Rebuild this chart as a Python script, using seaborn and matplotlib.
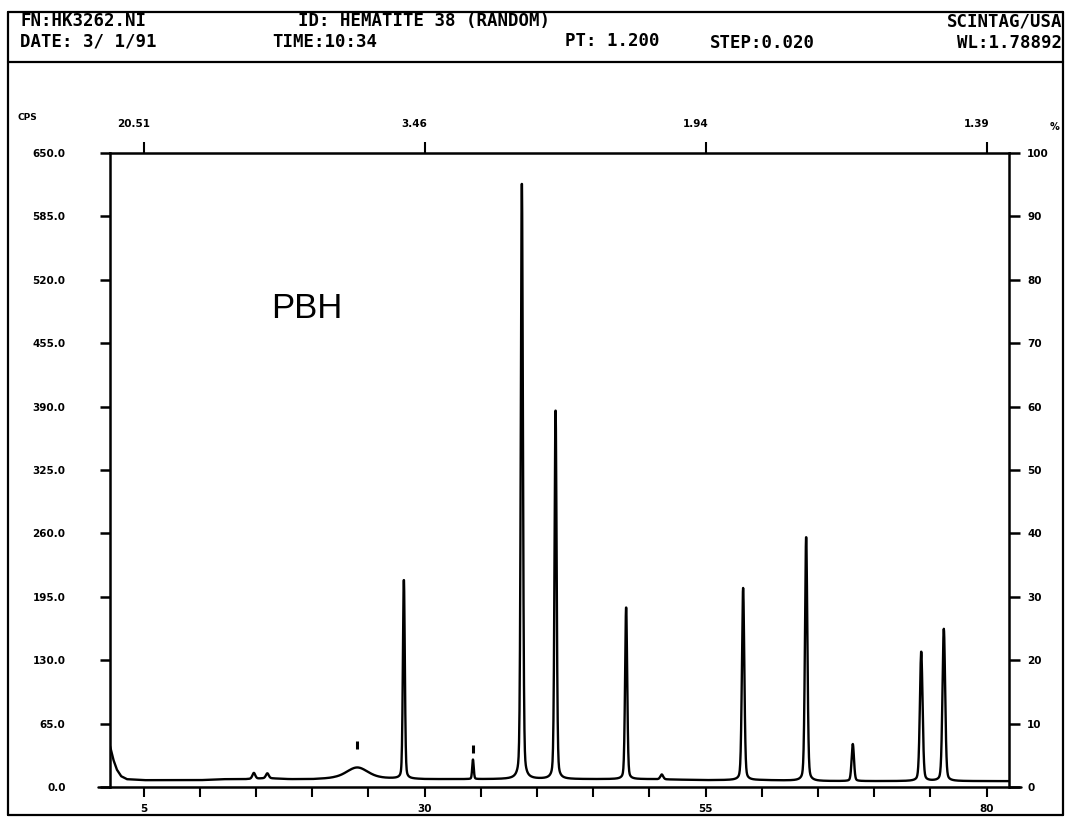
import numpy as np
import matplotlib
matplotlib.use("Agg")
import matplotlib.pyplot as plt
from matplotlib.lines import Line2D
from matplotlib.transforms import ScaledTranslation
import seaborn as sns

scan_start = 2.0
scan_stop = 82.0
scan_step = 0.020

peak_2theta = [14.8, 16.0, 24.0, 28.15, 34.3, 38.65, 41.65, 47.93, 51.1, 58.34, 63.95, 68.1, 74.19, 76.2]
peak_height = [6, 5, 11, 205, 20, 614, 380, 177, 5, 197, 251, 38, 133, 156]
peak_fwhm = [0.3, 0.3, 2.2, 0.2, 0.16, 0.22, 0.22, 0.22, 0.3, 0.25, 0.25, 0.25, 0.28, 0.28]

bg_2theta = [2.0, 2.3, 2.6, 3.0, 3.5, 5, 8, 10, 12, 14, 16, 18, 20, 22, 26, 30, 35, 40, 45, 50, 55, 60, 65, 70, 75, 80, 82]
bg_cps = [42, 28, 18, 11, 8, 7, 7, 7, 8, 8, 9, 8, 8, 9, 9, 8, 8, 8, 8, 8, 7, 7, 6, 6, 6, 6, 6]

marker_2theta = [24.0, 34.3]
marker_cps = [43, 39]

cps_ticks = [0, 65, 130, 195, 260, 325, 390, 455, 520, 585, 650]
cps_labels = ["0.0", "65.0", "130.0", "195.0", "260.0", "325.0", "390.0", "455.0", "520.0", "585.0", "650.0"]
pct_ticks = [0, 10, 20, 30, 40, 50, 60, 70, 80, 90, 100]
pct_labels = ["0", "10", "20", "30", "40", "50", "60", "70", "80", "90", "100"]
two_theta_major = [5, 30, 55, 80]
two_theta_labels = ["5", "30", "55", "80"]
two_theta_minor = [10, 15, 20, 25, 35, 40, 45, 50, 60, 65, 70, 75]
d_labels = ["20.51", "3.46", "1.94", "1.39"]

header_left = [("FN:HK3262.NI", 20, 21), ("DATE: 3/ 1/91", 20, 42)]
header_mid = [("ID: HEMATITE 38 (RANDOM)", 298, 21), ("TIME:10:34", 272, 42),
              ("PT: 1.200", 565, 41), ("STEP:0.020", 710, 43)]
header_right = [("SCINTAG/USA", 1062, 21), ("WL:1.78892", 1062, 43)]

# ---------------- build the trace ----------------
two_theta = np.arange(scan_start, scan_stop + scan_step / 2, scan_step)
counts = np.interp(two_theta, bg_2theta, bg_cps)
eta = 0.25
for c, h, w in zip(peak_2theta, peak_height, peak_fwhm):
    dx = (two_theta - c) / w
    gauss = np.exp(-4 * np.log(2) * dx ** 2)
    lor = 1.0 / (1.0 + 4 * dx ** 2)
    counts = counts + h * (eta * lor + (1 - eta) * gauss)

# ---------------- figure ----------------
sns.set_style("white")
plt.rcParams["font.family"] = ["DejaVu Sans"]
for key in ["text.color", "axes.labelcolor", "xtick.color", "ytick.color", "axes.edgecolor"]:
    plt.rcParams[key] = "black"

W, H = 1066, 821
fig = plt.figure(figsize=(W / 100, H / 100), dpi=100)

def fx(px):
    return px / W

def fy(py):
    return 1 - py / H

ax_l, ax_r, ax_t, ax_b = 110, 1009, 153, 787
ax = fig.add_axes([fx(ax_l), fy(ax_b), (ax_r - ax_l) / W, (ax_b - ax_t) / H])

sns.lineplot(x=two_theta, y=counts, ax=ax, color="black", linewidth=1.7, estimator=None)
ax.plot(marker_2theta, marker_cps, linestyle="none", marker="|", markersize=6,
        markeredgewidth=2.2, color="black")

ax.set_xlim(scan_start, scan_stop)
ax.set_ylim(0, 650)
lw = 1.8
for s in ["left", "bottom"]:
    ax.spines[s].set_linewidth(lw)
    ax.spines[s].set_color("black")
for s in ["top", "right"]:
    ax.spines[s].set_visible(False)

tick_font = dict(fontsize=7.5, fontweight="bold", color="black")
ax.set_yticks(cps_ticks)
ax.set_yticklabels(cps_labels, **tick_font)
ax.tick_params(axis="y", direction="out", length=7, width=lw, pad=25, left=True, colors="black")
ax.set_xticks(two_theta_major)
ax.set_xticklabels(two_theta_labels, **tick_font)
ax.set_xticks(two_theta_minor, minor=True)
ax.tick_params(axis="x", which="both", direction="out", length=7, width=1.5, pad=5,
               bottom=True, colors="black")
ax.set_xlabel("")
ax.set_ylabel("")

# baseline extends a bit beyond the frame
ax.plot([-12 / 899, 0], [0, 0], transform=ax.transAxes, color="black", lw=lw, clip_on=False)
ax.plot([1, 1 + 12 / 899], [0, 0], transform=ax.transAxes, color="black", lw=lw, clip_on=False)

# right % axis
ax2 = ax.twinx()
ax2.set_ylim(0, 100)
ax2.set_yticks(pct_ticks)
ax2.set_yticklabels(pct_labels, **tick_font)
ax2.tick_params(axis="y", direction="out", length=8, width=lw, pad=5, right=True, colors="black")
for s in ["left", "bottom", "top"]:
    ax2.spines[s].set_visible(False)
ax2.spines["right"].set_linewidth(lw)
ax2.spines["right"].set_color("black")

# top d-spacing axis
ax3 = ax.twiny()
ax3.set_xlim(scan_start, scan_stop)
ax3.set_xticks(two_theta_major)
ax3.set_xticklabels(d_labels, **tick_font)
ax3.tick_params(axis="x", direction="out", length=8, width=1.5, pad=9, top=True, colors="black")
for s in ["left", "bottom", "right"]:
    ax3.spines[s].set_visible(False)
ax3.spines["top"].set_linewidth(lw)
ax3.spines["top"].set_color("black")
for lab in ax3.get_xticklabels():
    lab.set_transform(lab.get_transform() + ScaledTranslation(-10 / 100, 0, fig.dpi_scale_trans))

ax.text((307 - ax_l) / (ax_r - ax_l), (ax_b - 309) / (ax_b - ax_t), "PBH",
        transform=ax.transAxes, ha="center", va="center", fontsize=25, color="black",
        family=["Liberation Sans", "DejaVu Sans"])

fig.text(fx(18), fy(117), "CPS", ha="left", va="center", fontsize=6.5, fontweight="bold")
fig.text(fx(1050), fy(127), "%", ha="left", va="center", fontsize=7, fontweight="bold")

# header
hfont = dict(fontsize=12.5, family=["DejaVu Sans Mono"], fontweight="bold", va="center", color="black")
for t, x, y in header_left + header_mid:
    fig.text(fx(x), fy(y), t, ha="left", **hfont)
for t, x, y in header_right:
    fig.text(fx(x), fy(y), t, ha="right", **hfont)

# frame
frame = [((8, 12), (1063, 12)), ((8, 12), (8, 815)), ((1063, 12), (1063, 815)),
         ((8, 815), (1063, 815)), ((8, 62), (1063, 62))]
for (x0, y0), (x1, y1) in frame:
    fig.add_artist(Line2D([fx(x0), fx(x1)], [fy(y0), fy(y1)], color="black", lw=1.6,
                          transform=fig.transFigure))

fig.savefig("out.png", dpi=100, facecolor="white")
